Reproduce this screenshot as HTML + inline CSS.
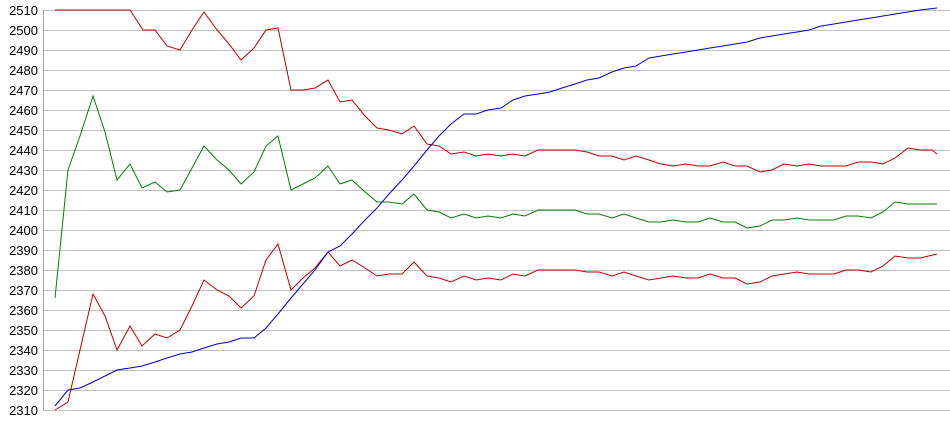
<!DOCTYPE html>
<html><head><meta charset="utf-8"><style>
html,body{margin:0;padding:0;background:#fff;width:950px;height:435px;overflow:hidden}
svg{display:block}
text{font-family:"Liberation Sans",sans-serif;font-size:13px;fill:#000}
</style></head><body>
<svg id="c" width="950" height="435" xmlns="http://www.w3.org/2000/svg"></svg>
<script>
const s=document.getElementById('c');const NS='http://www.w3.org/2000/svg';
const Y=v=>10+(2510-v)*2;
let h='';
for(let v=2310;v<=2510;v+=10){const y=Y(v);h+=`<line x1="43" x2="950" y1="${y+.5}" y2="${y+.5}" stroke="#c0c0c0"/><text x="38" y="${y+5}" text-anchor="end">${v}</text>`;}
h+=`<line x1="43.5" x2="43.5" y1="10" y2="411" stroke="#a0a0a0"/>`;
const ser=[
["#c00000",[55,2510,130,2510,143,2500,155,2500,167,2492,180,2490,192,2500,204,2509,217,2500,229,2493,241,2485,254,2491,266,2500,278,2501,291,2470,303,2470,315,2471,328,2475,340,2464,352,2465,365,2457,377,2451,389,2450,402,2448,414,2452,427,2443,439,2442,451,2438,464,2439,476,2437,488,2438,501,2437,513,2438,525,2437,538,2440,550,2440,562,2440,575,2440,587,2439,599,2437,612,2437,624,2435,636,2437,649,2435,661,2433,673,2432,686,2433,698,2432,710,2432,723,2434,735,2432,747,2432,760,2429,772,2430,784,2433,797,2432,809,2433,821,2432,834,2432,846,2432,858,2434,871,2434,883,2433,895,2436,908,2441,920,2440,932,2440,937,2438]],
["#008000",[55,2366,68,2430,80,2447,93,2467,105,2449,117,2425,130,2433,142,2421,155,2424,167,2419,180,2420,192,2431,204,2442,217,2435,229,2430,241,2423,254,2429,266,2442,278,2447,291,2420,303,2423,315,2426,328,2432,340,2423,352,2425,365,2419,377,2414,389,2414,402,2413,414,2418,427,2410,439,2409,451,2406,464,2408,476,2406,488,2407,501,2406,513,2408,525,2407,538,2410,575,2410,587,2408,599,2408,612,2406,624,2408,636,2406,649,2404,661,2404,673,2405,686,2404,698,2404,710,2406,723,2404,735,2404,747,2401,760,2402,772,2405,784,2405,797,2406,809,2405,821,2405,834,2405,846,2407,858,2407,871,2406,883,2409,895,2414,908,2413,920,2413,937,2413]],
["#c00000",[55,2310,68,2314,80,2340,93,2368,105,2357,117,2340,130,2352,142,2342,155,2348,167,2346,180,2350,192,2362,204,2375,217,2370,229,2367,241,2361,254,2367,266,2385,278,2393,291,2370,303,2376,315,2381,328,2389,340,2382,352,2385,365,2381,377,2377,389,2378,402,2378,414,2384,427,2377,439,2376,451,2374,464,2377,476,2375,488,2376,501,2375,513,2378,525,2377,538,2380,575,2380,587,2379,599,2379,612,2377,624,2379,636,2377,649,2375,661,2376,673,2377,686,2376,698,2376,710,2378,723,2376,735,2376,747,2373,760,2374,772,2377,784,2378,797,2379,809,2378,821,2378,834,2378,846,2380,858,2380,871,2379,883,2382,895,2387,908,2386,920,2386,937,2388]],
["#0000d0",[55,2312,68,2320,80,2321,93,2324,105,2327,117,2330,130,2331,142,2332,155,2334,167,2336,180,2338,192,2339,204,2341,217,2343,229,2344,241,2346,254,2346,266,2351,278,2358,291,2366,303,2373,315,2380,328,2389,340,2392,352,2398,365,2405,377,2411,389,2418,402,2425,414,2432,427,2440,439,2447,451,2453,464,2458,476,2458,488,2460,501,2461,513,2465,525,2467,538,2468,550,2469,562,2471,575,2473,587,2475,599,2476,612,2479,624,2481,636,2482,649,2486,661,2487,673,2488,686,2489,698,2490,710,2491,723,2492,735,2493,747,2494,760,2496,772,2497,784,2498,797,2499,809,2500,821,2502,834,2503,846,2504,858,2505,871,2506,883,2507,895,2508,908,2509,920,2510,937,2511]]
];
for(const [c,a] of ser){let p=[];for(let i=0;i<a.length;i+=2)p.push(a[i]+','+Y(a[i+1]));h+=`<polyline fill="none" stroke="${c}" stroke-width="1" points="${p.join(' ')}"/>`;}
s.innerHTML=h;
</script>
</body></html>
